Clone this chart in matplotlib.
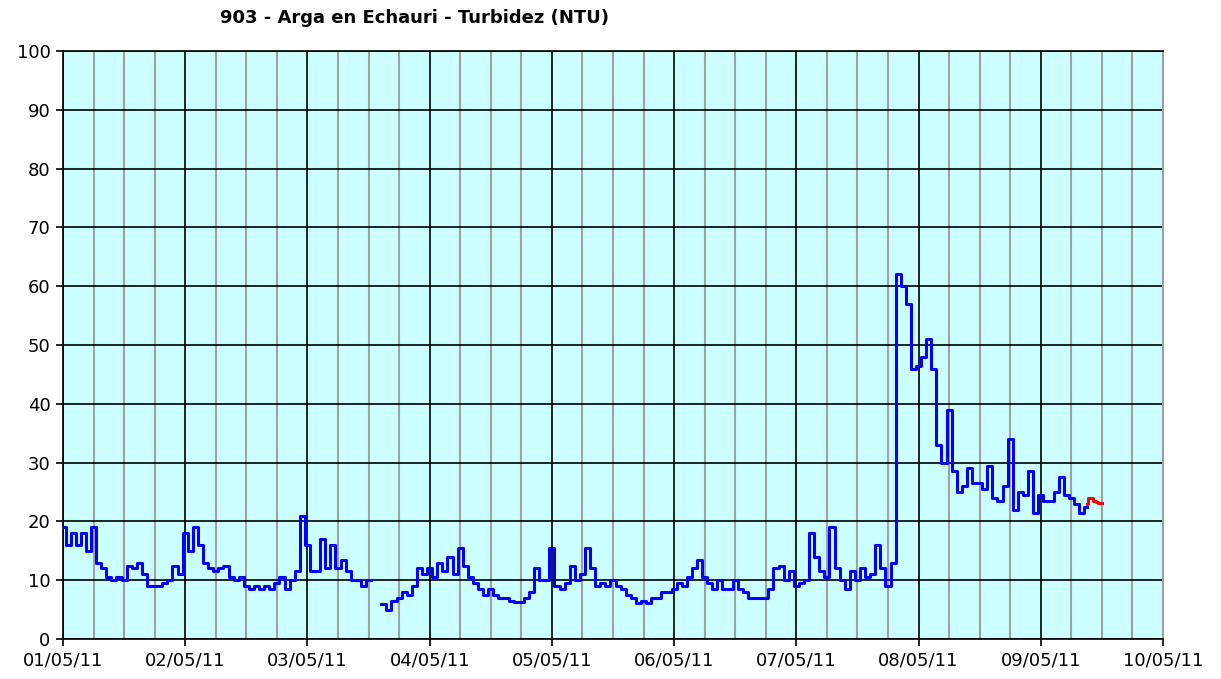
import numpy as np
import pandas as pd
import matplotlib

matplotlib.use("Agg")
import matplotlib.pyplot as plt
import matplotlib.dates as mdates

nan = np.nan

# hourly turbidity readings (NTU), one list per day
day1 = [19, 16, 18, 16, 18, 15, 19, 13, 12, 10.5, 10, 10.5, 10, 12.5, 12, 13, 11, 9, 9, 9, 9.5, 10, 12.5, 11]
day2 = [18, 15, 19, 16, 13, 12, 11.5, 12, 12.5, 10.5, 10, 10.5, 9, 8.5, 9, 8.5, 9, 8.5, 9.5, 10.5, 8.5, 10, 11.5, 21]
day3 = [16, 11.5, 11.5, 17, 12, 16, 12, 13.5, 11.5, 10, 10, 9, 10, nan, nan, 6, 5, 6.5, 7, 8, 7.5, 9, 12, 11]
day4 = [12, 10.5, 13, 11.5, 14, 11, 15.5, 12.5, 10.5, 9.5, 8.5, 7.5, 8.5, 7.5, 7, 7, 6.5, 6.3, 6.3, 7, 8, 12, 10, 10]
day5 = [15.5, 9, 8.5, 9.5, 12.5, 10, 11, 15.5, 12, 9, 9.5, 9, 10, 9, 8.5, 7.5, 7, 6.2, 6.5, 6.2, 7, 7, 8, 8]
day6 = [8.5, 9.5, 9, 10.5, 12, 13.5, 10.5, 9.5, 8.5, 10, 8.5, 8.5, 10, 8.5, 8, 7, 7, 7, 7, 8.5, 12, 12.5, 10, 11.5]
day7 = [9, 9.5, 10, 18, 14, 11.5, 10.5, 19, 12, 10, 8.5, 11.5, 10, 12, 10.5, 11, 16, 12, 9, 13, 62, 60, 57, 46]
day8 = [46.5, 48, 51, 46, 33, 30, 39, 28.5, 25, 26, 29, 26.5, 26.5, 25.5, 29.5, 24, 23.5, 26, 34, 22, 25, 24.5, 28.5, 21.5]
day9 = [24.5, 23.5, 23.5, 25, 27.5, 24.5, 24, 23, 21.5, 22.5]

turbidity = day1 + day2 + day3 + day4 + day5 + day6 + day7 + day8 + day9
times = pd.date_range("2011-05-01", periods=len(turbidity), freq="h")

# last readings, drawn in red
recent_values = [23, 24, 24, 23.5, 23.3, 23.2, 23.2]
recent_times = pd.date_range("2011-05-09 09:00", periods=len(recent_values), freq="30min")

fig = plt.figure(figsize=(12.21, 6.79), dpi=100)
ax = fig.add_axes([63 / 1221, 40 / 679, 1100 / 1221, 588 / 679])
ax.set_facecolor("#CCFFFF")

ax.plot(times, turbidity, color="#0000FF", lw=2.2, drawstyle="steps-mid", zorder=3)
ax.plot(recent_times, recent_values, color="#FF0000", lw=2.2, drawstyle="steps-mid", zorder=3)

ax.set_xlim(pd.Timestamp("2011-05-01"), pd.Timestamp("2011-05-10"))
ax.set_ylim(0, 100)
ax.set_yticks(range(0, 101, 10))
ax.xaxis.set_major_locator(mdates.DayLocator())
ax.xaxis.set_major_formatter(mdates.DateFormatter("%d/%m/%y"))
ax.xaxis.set_minor_locator(mdates.HourLocator(byhour=[6, 12, 18]))

ax.set_axisbelow(True)
ax.grid(which="minor", axis="x", color="#A0A0A0", lw=1.5)
ax.grid(which="major", color="black", lw=1.2)

ax.tick_params(which="major", length=5, width=1.2, color="black", labelsize=13, pad=4)
ax.tick_params(which="minor", length=0)

for side in ["left", "bottom", "top"]:
    ax.spines[side].set_color("black")
    ax.spines[side].set_linewidth(1.2)
ax.spines["right"].set_color("#A0A0A0")
ax.spines["right"].set_linewidth(1.5)

fig.text(415 / 1221, 1 - 18 / 679, "903 - Arga en Echauri - Turbidez (NTU)",
         ha="center", va="center", fontsize=13, fontweight="bold")

fig.savefig("out.png", dpi=100)
plt.close(fig)
